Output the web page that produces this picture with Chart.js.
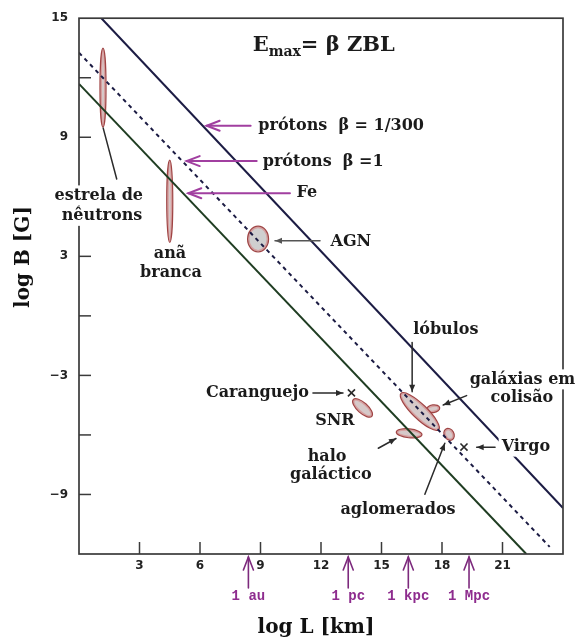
<!DOCTYPE html>
<html>
<head>
<meta charset="utf-8">
<script src="https://cdn.jsdelivr.net/npm/chart.js@4.4.0/dist/chart.umd.min.js"></script>
<style>
  html, body { margin: 0; padding: 0; background: #fff; }
  canvas { display: block; }
</style>
</head>
<body>
<canvas id="hillas" width="576" height="643"></canvas>
<script>
// Hillas condition E_max = beta Z B L : log B [G] against log L [km]
const lineProtonSlowL = [1.11, 24];      // protons, beta = 1/300
const lineProtonSlowB = [15, -9.68];
const lineProtonFastL = [0, 23.34];      // protons, beta = 1
const lineProtonFastB = [13.26, -11.64];
const lineIronL = [0, 22.18];            // iron
const lineIronB = [11.69, -12];

// Source regions (ellipses): centre, half-extent along major/minor axis, tilt in degrees
const sourceNames = ['galáxias em colisão', 'estrela de nêutrons', 'anã branca', 'AGN', 'SNR', 'lóbulos', 'halo galáctico', 'aglomerados'];
const sourceL = [17.56, 1.19, 4.50, 8.88, 14.06, 16.90, 16.37, 18.35];
const sourceB = [-4.68, 11.50, 5.77, 3.87, -4.64, -4.82, -5.92, -5.97];
const sourceHalfMajor = [0.33, 1.96, 2.04, 0.64, 0.62, 1.30, 0.64, 0.31];
const sourceHalfMinor = [0.19, 0.15, 0.15, 0.52, 0.26, 0.36, 0.22, 0.24];
const sourceTilt = [-8, 90, 90, 90, 42, 44, 6, 60];

// Single objects marked with a cross
const pointNames = ['Caranguejo', 'Virgo'];
const pointL = [13.51, 19.09];
const pointB = [-3.88, -6.61];

// Axis ticks
const xTickLabels = [3, 6, 9, 12, 15, 18, 21];
const yTickLabels = [15, 9, 3, -3, -9];

// Reference lengths under the L axis
const unitNames = ['1 au', '1 pc', '1 kpc', '1 Mpc'];
const unitL = [8.40, 13.35, 16.33, 19.34];

// Text notes and pointer arrows, placed in data coordinates
const textNotes = [
  { text: 'estrela de', L: 0.98, B: 6.07, bg: true },
  { text: 'nêutrons', L: 1.14, B: 5.04, bg: true },
  { text: 'anã', L: 4.51, B: 3.12 },
  { text: 'branca', L: 4.56, B: 2.18 },
  { text: 'AGN', L: 13.48, B: 3.72 },
  { text: 'prótons  β = 1/300', L: 8.89, B: 9.59, align: 'left' },
  { text: 'prótons  β =1', L: 9.11, B: 7.78, align: 'left' },
  { text: 'Fe', L: 10.79, B: 6.19, align: 'left' },
  { text: 'lóbulos', L: 18.19, B: -0.72 },
  { text: 'galáxias em', L: 21.99, B: -3.20, bg: true },
  { text: 'colisão', L: 21.96, B: -4.14, bg: true },
  { text: 'Caranguejo', L: 8.85, B: -3.89 },
  { text: 'SNR', L: 12.69, B: -5.30 },
  { text: 'halo', L: 12.30, B: -7.08 },
  { text: 'galáctico', L: 12.49, B: -8.03 },
  { text: 'Virgo', L: 22.16, B: -6.59, bg: true },
  { text: 'aglomerados', L: 15.82, B: -9.76 }
];
const PURPLE = '#a13fa0';
const DARK = '#2b2b2b';
const pointers = [
  { from: [8.51, 9.58], to: [6.33, 9.58], color: PURPLE, open: true },
  { from: [8.81, 7.80], to: [5.34, 7.80], color: PURPLE, open: true },
  { from: [10.46, 6.18], to: [5.42, 6.18], color: PURPLE, open: true },
  { from: [11.95, 3.78], to: [9.72, 3.78], color: '#555' },
  { from: [11.60, -3.89], to: [13.09, -3.89], color: DARK },
  { from: [20.63, -6.62], to: [19.72, -6.62], color: DARK },
  { from: [16.52, -1.34], to: [16.52, -3.82], color: DARK },
  { from: [19.22, -4.02], to: [18.06, -4.49], color: DARK },
  { from: [14.84, -6.67], to: [15.72, -6.18], color: DARK },
  { from: [17.15, -8.99], to: [18.14, -6.42], color: DARK },
  { from: [1.20, 9.46], to: [1.87, 6.90], color: DARK, noHead: true }
];

const SERIF = '"DejaVu Serif", "Liberation Serif", serif';

function pairs(xs, ys) { return xs.map((x, i) => ({ x: x, y: ys[i] })); }

function drawArrow(ctx, x1, y1, x2, y2, opt) {
  ctx.save();
  ctx.strokeStyle = opt.color;
  ctx.fillStyle = opt.color;
  ctx.lineWidth = opt.width || 1.6;
  ctx.lineCap = 'round';
  ctx.beginPath();
  ctx.moveTo(x1, y1);
  ctx.lineTo(x2, y2);
  ctx.stroke();
  if (!opt.noHead) {
    const a = Math.atan2(y2 - y1, x2 - x1);
    const h = opt.open ? 13 : 7;
    const w = opt.open ? 5 : 3;
    const bx = x2 - h * Math.cos(a), by = y2 - h * Math.sin(a);
    const nx = -Math.sin(a) * w, ny = Math.cos(a) * w;
    ctx.beginPath();
    if (opt.open) {
      ctx.moveTo(bx + nx, by + ny);
      ctx.lineTo(x2, y2);
      ctx.lineTo(bx - nx, by - ny);
      ctx.stroke();
    } else {
      ctx.moveTo(x2, y2);
      ctx.lineTo(bx + nx, by + ny);
      ctx.lineTo(bx - nx, by - ny);
      ctx.closePath();
      ctx.fill();
    }
  }
  ctx.restore();
}

const hillasDecor = {
  id: 'hillasDecor',
  beforeDatasetsDraw(chart) {
    const ctx = chart.ctx;
    const xs = chart.scales.x, ys = chart.scales.y;
    const ux = xs.getPixelForValue(1) - xs.getPixelForValue(0);
    ctx.save();
    for (let i = 0; i < sourceNames.length; i++) {
      const cx = xs.getPixelForValue(sourceL[i]);
      const cy = ys.getPixelForValue(sourceB[i]);
      const a = sourceHalfMajor[i] * ux, b = sourceHalfMinor[i] * ux;
      const rot = sourceTilt[i] * Math.PI / 180;
      ctx.beginPath();
      ctx.ellipse(cx, cy, a, b, rot, 0, Math.PI * 2);
      ctx.fillStyle = sourceNames[i] === 'AGN' ? '#cfcfcf' : '#d6c9c9';
      ctx.fill();
      ctx.beginPath();
      ctx.ellipse(cx, cy, Math.max(a - 1.3, 0.5), Math.max(b - 1.3, 0.5), rot, 0, Math.PI * 2);
      ctx.strokeStyle = 'rgba(215,150,150,0.85)';
      ctx.lineWidth = 1.4;
      ctx.stroke();
      ctx.beginPath();
      ctx.ellipse(cx, cy, a, b, rot, 0, Math.PI * 2);
      ctx.strokeStyle = '#a04444';
      ctx.lineWidth = 1.2;
      ctx.stroke();
    }
    ctx.restore();
  },
  afterDatasetsDraw(chart) {
    const ctx = chart.ctx;
    const area = chart.chartArea;
    const xs = chart.scales.x, ys = chart.scales.y;
    ctx.save();

    // frame
    ctx.strokeStyle = '#3a3a3a';
    ctx.lineWidth = 1.7;
    ctx.strokeRect(area.left, area.top, area.right - area.left, area.bottom - area.top);

    // inward tick marks
    ctx.lineWidth = 1.5;
    ys.ticks.forEach(t => {
      if (t.value <= ys.min || t.value >= ys.max) return;
      const y = ys.getPixelForValue(t.value);
      ctx.beginPath(); ctx.moveTo(area.left, y); ctx.lineTo(area.left + 12, y); ctx.stroke();
    });
    xs.ticks.forEach(t => {
      if (t.value <= xs.min || t.value >= xs.max) return;
      const x = xs.getPixelForValue(t.value);
      ctx.beginPath(); ctx.moveTo(x, area.bottom); ctx.lineTo(x, area.bottom - 12); ctx.stroke();
    });

    // notes
    ctx.font = 'bold 16px ' + SERIF;
    ctx.textBaseline = 'middle';
    textNotes.forEach(n => {
      const x = xs.getPixelForValue(n.L), y = ys.getPixelForValue(n.B);
      const w = ctx.measureText(n.text).width;
      const left = n.align === 'left' ? x : x - w / 2;
      if (n.bg) {
        ctx.fillStyle = '#fff';
        ctx.fillRect(left - 3, y - 10, w + 6, 20);
      }
      ctx.fillStyle = '#1b1b1b';
      ctx.textAlign = 'left';
      ctx.fillText(n.text, left, y);
    });

    // formula
    const fx = xs.getPixelForValue(8.61), fy = ys.getPixelForValue(13.36);
    ctx.textBaseline = 'alphabetic';
    ctx.fillStyle = '#1b1b1b';
    ctx.font = 'bold 21px ' + SERIF;
    ctx.fillText('E', fx, fy);
    let cx = fx + ctx.measureText('E').width;
    ctx.font = 'bold 14px ' + SERIF;
    ctx.fillText('max', cx, fy + 5);
    cx += ctx.measureText('max').width;
    ctx.font = 'bold 21px ' + SERIF;
    ctx.fillText('= β ZBL', cx, fy);

    // pointers
    pointers.forEach(p => {
      drawArrow(ctx,
        xs.getPixelForValue(p.from[0]), ys.getPixelForValue(p.from[1]),
        xs.getPixelForValue(p.to[0]), ys.getPixelForValue(p.to[1]),
        { color: p.color, open: p.open, noHead: p.noHead, width: p.open ? 2 : 1.5 });
    });

    // reference lengths below the L axis
    ctx.font = 'bold 14px "Liberation Mono", "DejaVu Sans Mono", monospace';
    ctx.textAlign = 'center';
    ctx.textBaseline = 'middle';
    unitL.forEach((L, i) => {
      const x = xs.getPixelForValue(L);
      drawArrow(ctx, x, area.bottom + 34, x, area.bottom + 3, { color: '#7d2a7d', width: 1.6, open: true });
      ctx.fillStyle = '#8e2c8e';
      ctx.fillText(unitNames[i], x, area.bottom + 42);
    });

    // axis titles
    ctx.fillStyle = '#111';
    ctx.font = 'bold 20px ' + SERIF;
    ctx.fillText('log L [km]', 316, 628);
    ctx.save();
    ctx.translate(24, 257);
    ctx.rotate(-Math.PI / 2);
    ctx.fillText('log B [G]', 0, 0);
    ctx.restore();

    ctx.restore();
  }
};

const lineStyle = { showLine: true, pointRadius: 0, borderWidth: 2, fill: false };

new Chart(document.getElementById('hillas'), {
  type: 'scatter',
  data: {
    datasets: [
      Object.assign({ label: 'prótons β = 1/300', data: pairs(lineProtonSlowL, lineProtonSlowB), borderColor: '#1c1c44' }, lineStyle),
      Object.assign({ label: 'prótons β = 1', data: pairs(lineProtonFastL, lineProtonFastB), borderColor: '#1c1c44', borderDash: [4, 4] }, lineStyle),
      Object.assign({ label: 'Fe', data: pairs(lineIronL, lineIronB), borderColor: '#1f3d22' }, lineStyle),
      {
        label: 'objetos', data: pairs(pointL, pointB), showLine: false,
        pointStyle: 'crossRot', pointRadius: 5, borderColor: '#2a2a2a', borderWidth: 1.6
      }
    ]
  },
  options: {
    responsive: false,
    animation: false,
    devicePixelRatio: 1,
    layout: { padding: { left: 0, top: 10, right: 13, bottom: 0 } },
    plugins: { legend: { display: false }, tooltip: { enabled: false } },
    scales: {
      x: {
        type: 'linear', min: 0, max: 24,
        grid: { display: false, drawTicks: false },
        border: { display: false },
        ticks: {
          stepSize: 3, padding: 5, color: '#222',
          font: { family: '"DejaVu Sans", sans-serif', weight: 'bold', size: 12 },
          callback: v => xTickLabels.includes(v) ? String(v) : ''
        },
        afterFit: s => { s.height = 89; }
      },
      y: {
        type: 'linear', min: -12, max: 15,
        grid: { display: false, drawTicks: false },
        border: { display: false },
        ticks: {
          stepSize: 3, padding: 11, color: '#222',
          font: { family: '"DejaVu Sans", sans-serif', weight: 'bold', size: 12 },
          callback: v => yTickLabels.includes(v) ? String(v).replace('-', '−') : ''
        },
        afterFit: s => { s.width = 79; }
      }
    }
  },
  plugins: [hillasDecor]
});
</script>
</body>
</html>
